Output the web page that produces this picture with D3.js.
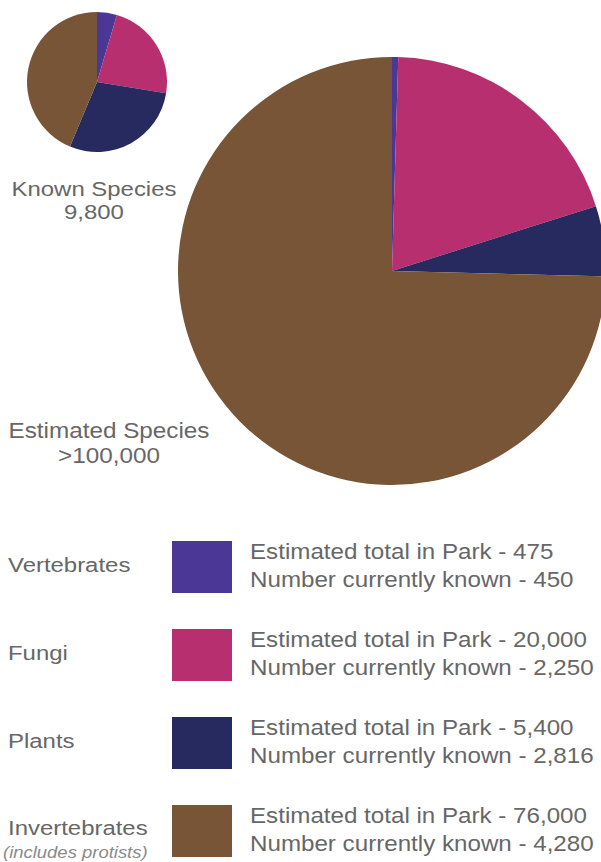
<!DOCTYPE html>
<meta charset="utf-8">
<head>
    <script src="https://d3js.org/d3.v7.min.js"></script>
    <style>
        body { margin: 0; background: #fff; }
        text { font-family: "Liberation Sans", Arial, sans-serif; fill: #676767; }
    </style>
</head>
<body>
<div id="chart"></div>

<script>
    // species groups, in slice order (clockwise from 12 o'clock)
    const groups = ["Vertebrates", "Fungi", "Plants", "Invertebrates"]
    const estimated = [475, 20000, 5400, 76000]
    const known = [450, 2250, 2816, 4280]
    const colors = ["#4b3796", "#b82f6f", "#272a5e", "#775536"]
    const knownLabel = ["Known Species", "9,800"]
    const estLabel = ["Estimated Species", ">100,000"]

    const width = 601, height = 862
    const stretch = 1.14   // the print type is a bit wider than Liberation Sans

    const svg = d3.select("#chart").append("svg")
        .attr("width", width)
        .attr("height", height)

    const color = d3.scaleOrdinal().domain(groups).range(colors)

    const pie = d3.pie().sort(null).value(d => d.value)

    function drawPie(values, cx, cy, r) {
        const data = groups.map((g, i) => ({ group: g, value: values[i] }))
        const arc = d3.arc().innerRadius(0).outerRadius(r)
        svg.append("g")
            .attr("transform", `translate(${cx}, ${cy})`)
            .selectAll("path")
            .data(pie(data))
            .join("path")
            .attr("d", arc)
            .attr("fill", d => color(d.data.group))
    }

    function label(sel, x, y, size) {
        return sel.append("text")
            .attr("transform", `translate(${x}, ${y}) scale(${stretch}, 1)`)
            .style("font-size", size + "px")
    }

    // big pie first, small one on top
    drawPie(estimated, 392, 271, 214)
    drawPie(known, 97, 82, 70)

    knownLabel.forEach((t, i) => {
        label(svg, 94, 196 + i * 23, 21).attr("text-anchor", "middle").text(t)
    })
    estLabel.forEach((t, i) => {
        label(svg, 109, 438 + i * 25, 21.3).attr("text-anchor", "middle").text(t)
    })

    // legend
    const y = d3.scaleBand()
        .domain(groups)
        .range([541, 857])
        .paddingInner(36 / 88)
        .paddingOuter(0)

    const fmt = d3.format(",")

    const rows = svg.selectAll("g.row")
        .data(groups)
        .join("g")
        .attr("class", "row")
        .attr("transform", d => `translate(0, ${y(d)})`)

    rows.append("rect")
        .attr("x", 172)
        .attr("width", 60)
        .attr("height", y.bandwidth())
        .attr("fill", d => color(d))

    rows.each(function (d, i) {
        const row = d3.select(this)
        label(row, 8, i === 3 ? 30 : 31, 21).text(d)
        label(row, 250, 18, 21.2).text(`Estimated total in Park - ${fmt(estimated[i])}`)
        label(row, 250, 46, 21.2).text(`Number currently known - ${fmt(known[i])}`)
    })

    const inv = rows.filter(d => d === "Invertebrates")
    label(inv, 3, 53, 16.2)
        .style("font-style", "italic")
        .style("fill", "#8a8a8a")
        .text("(includes protists)")
</script>
</body>
